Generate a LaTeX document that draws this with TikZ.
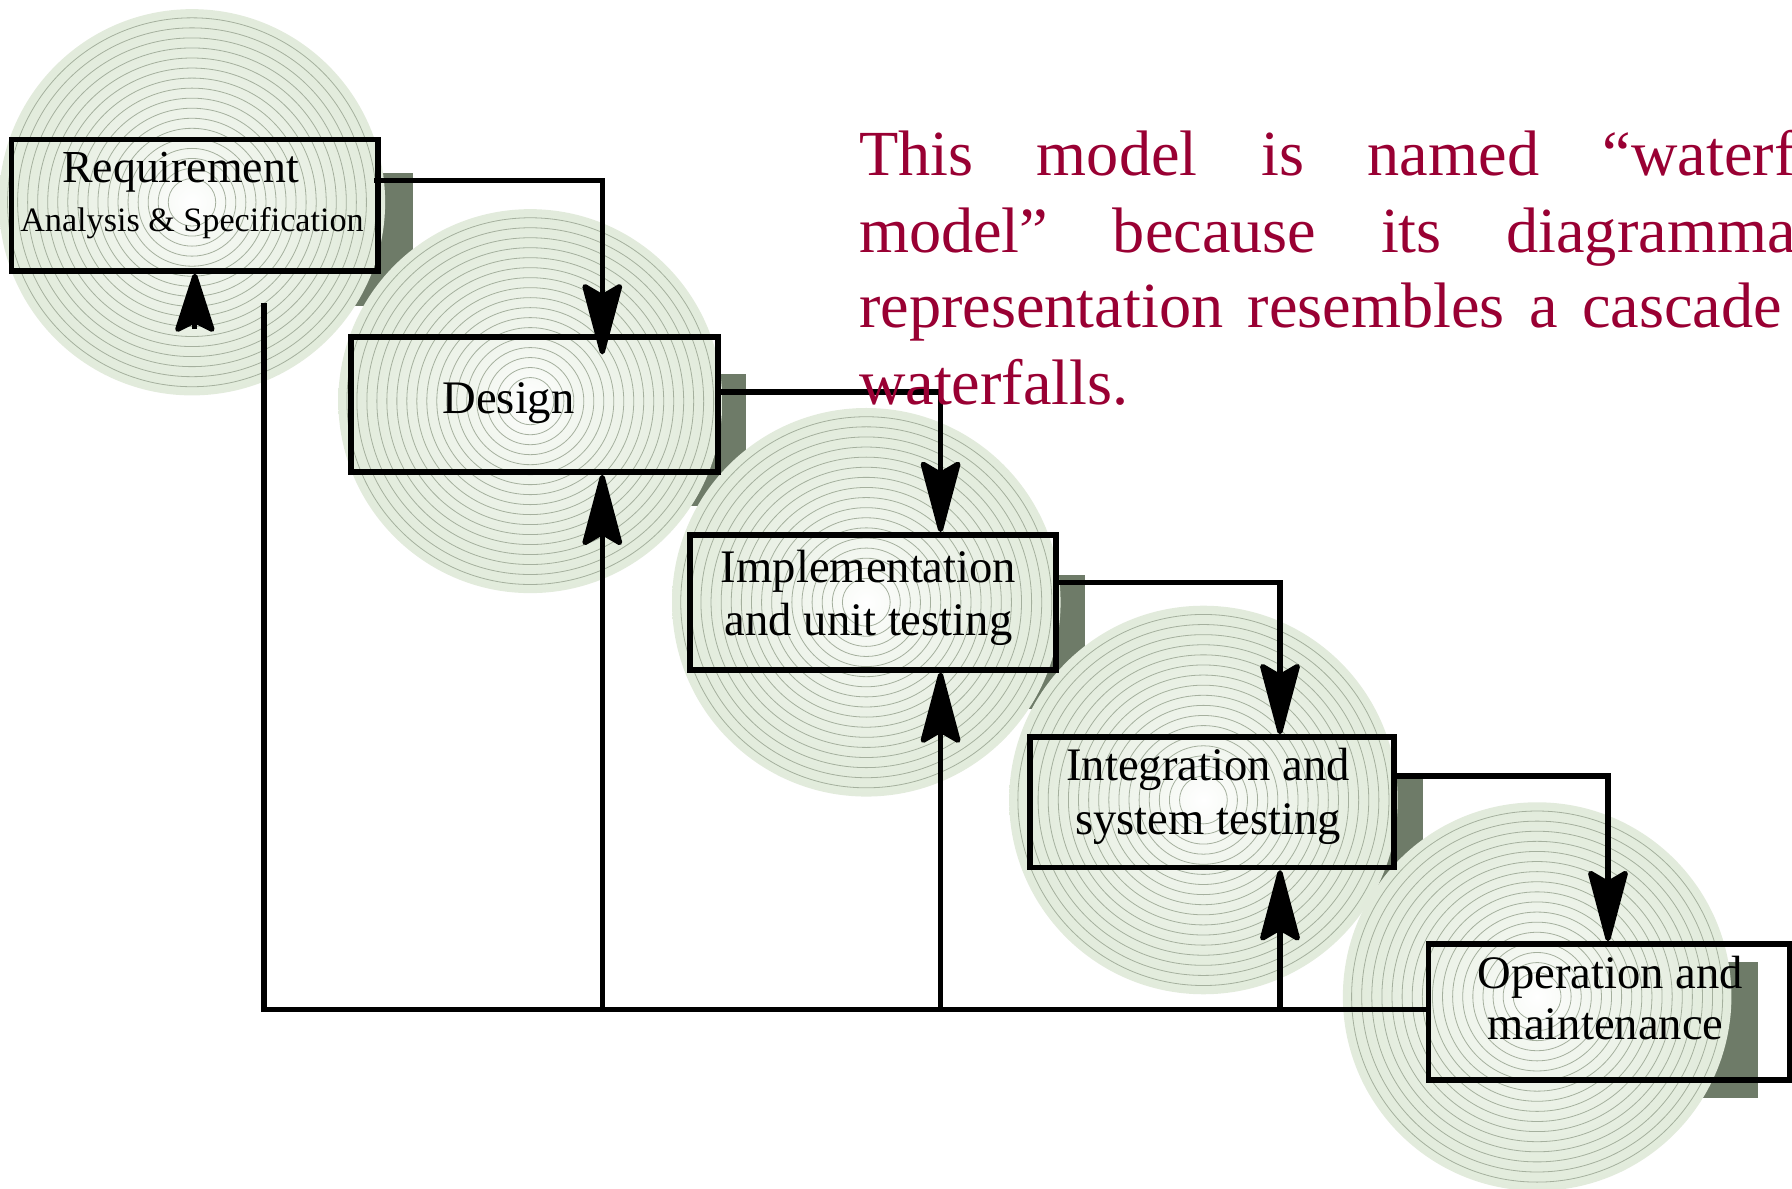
\documentclass[tikz,border=0pt]{standalone}
\usepackage{fontspec}
\setmainfont{Liberation Serif}
\usetikzlibrary{arrows.meta,calc,fit}
\definecolor{lg}{RGB}{212,226,203}
\definecolor{shadowc}{RGB}{110,123,104}
\definecolor{wine}{RGB}{153,0,51}
\pgfdeclareradialshading{blobshade}{\pgfpoint{0bp}{0bp}}{color(0bp)=(white); color(6bp)=(white!72!lg); color(20bp)=(white!38!lg); color(40bp)=(white!14!lg); color(45bp)=(lg); color(50bp)=(lg)}
\tikzset{
  boxnode/.style={draw, line width=1.4pt, inner sep=0pt},
  shadowbox/.style={fill=shadowc},
  ringline/.style={draw=black!22!lg, line width=0.2pt},
  flow/.style={line width=1.3pt, -{Stealth[length=20pt,width=10.5pt,inset=3pt,round]}},
  fbline/.style={line width=1.3pt},
  lbl/.style={font=\fontsize{11.6}{13}\selectfont, anchor=base, inner sep=0pt},
  desc/.style={font=\fontsize{16}{19}\selectfont, text=wine, anchor=base west, inner sep=0pt},
}
\newcommand\wfblob[3]{%
  \shade[shading=blobshade] (#1,#2) ellipse [x radius=#3, y radius=#3];
  \foreach \f in {0.955,0.903,...,0.1}
    \draw[ringline] (#1,#2) ellipse [x radius=\f*#3, y radius=\f*#3];
}
\begin{document}
\begin{tikzpicture}[x={(0.01cm,0)}, y={(0,-0.01cm)}]
\useasboundingbox (0,0) rectangle (1568,1040);
\clip (0,0) rectangle (1568,1040);

% shadows
\fill[shadowbox] (40,151) rectangle (361,268);
\fill[shadowbox] (332,327) rectangle (653,443);
\fill[shadowbox] (629,503) rectangle (949,620);
\fill[shadowbox] (926,678) rectangle (1245,792);
\fill[shadowbox] (1280,842) rectangle (1538,961);

% discs
\wfblob{168}{177}{169}
\wfblob{464}{351}{168}
\wfblob{758}{527}{170}
\wfblob{1053}{700}{170}
\wfblob{1345}{872}{170}

% boxes
\node[boxnode, fit={(10,122) (331,237)}] (req) {};
\node[boxnode, fit={(307,295) (628,413)}] (des) {};
\node[boxnode, fit={(604,468) (924,586)}] (imp) {};
\node[boxnode, fit={(901,645) (1220,759)}] (int) {};
\node[boxnode, fit={(1250,826) (1566,945)}] (ope) {};

% labels
\node[lbl, font=\fontsize{11.4}{13}\selectfont] (t1a) at (158,160) {Requirement};
\node[lbl, font=\fontsize{8.5}{10}\selectfont] (t1b) at (168,203) {Analysis \& Specification};
\node[lbl] (t2) at (445,362) {Design};
\node[lbl] (t3a) at (760,510) {Implementation};
\node[lbl] (t3b) at (760,556) {and unit testing};
\node[lbl] (t4a) at (1057,683) {Integration and};
\node[lbl] (t4b) at (1057,730) {system testing};
\node[lbl] (t5a) at (1409,865) {Operation and};
\node[lbl] (t5b) at (1405,910) {maintenance};

% forward connectors
\draw[flow, shorten >=-5pt] ($(req.east)+(-6,-21.5)$) -| ($(des.north)+(59.5,0)$);
\draw[flow] ($(des.east)+(0,-11)$) -| ($(imp.north)+(59,0)$);
\draw[flow] ($(imp.east)+(0,-17)$) -| ($(int.north)+(59.5,0)$);
\draw[flow] ($(int.east)+(0,-23)$) -| ($(ope.north)+(-1,0)$);

% feedback
\coordinate (fbL) at (231,883);
\coordinate (fbTop) at (231,265);
\coordinate (j2) at (527,883);
\coordinate (j3) at (823,883);
\coordinate (j4) at (1120,883);
\draw[fbline] ($(ope.west)+(0,-2.5)$) -- (fbL) -- (fbTop);
\draw[flow] (j2) -- (j2 |- des.south);
\draw[flow] (j3) -- (j3 |- imp.south);
\draw[flow] (j4) -- (j4 |- int.south);
\draw[line width=1.3pt, -{Stealth[length=16.5pt,width=10.5pt,inset=2.6pt,round]}] ($(req.south)+(0,48)$) -- (req.south);

% description
\node[desc] (d1) at (751,154) {\hbox to 249pt{This\hfill model\hfill is\hfill named\hfill “waterfall}};
\node[desc] (d2) at (751,221) {\hbox to 249pt{model”\hfill because\hfill its\hfill diagrammatic}};
\node[desc] (d3) at (751,287) {\hbox to 249pt{representation\hfill resembles\hfill a\hfill cascade\hfill of}};
\node[desc] (d4) at (751,354) {waterfalls.};
\end{tikzpicture}
\end{document}
